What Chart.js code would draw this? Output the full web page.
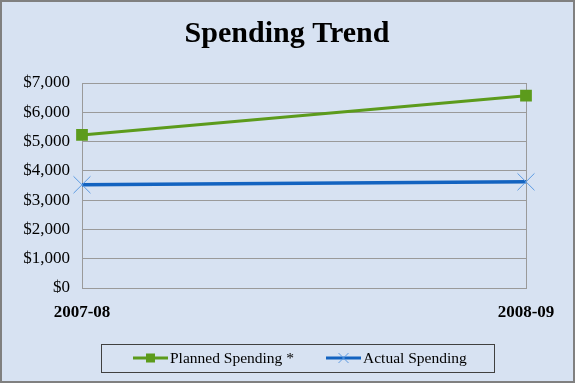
<!DOCTYPE html>
<html>
<head>
<meta charset="utf-8">
<script src="https://cdn.jsdelivr.net/npm/chart.js@4/dist/chart.umd.min.js"></script>
<style>
  html, body { margin: 0; padding: 0; background: #d7e2f2; }
  #wrap { width: 571px; height: 379px; border: 2px solid #808080; position: relative; }
</style>
</head>
<body>
<div id="wrap"><canvas id="chart" width="571" height="379"></canvas></div>
<script>
const years = ["2007-08", "2008-09"];
const planned = [5225, 6565];
const actual = [3525, 3625];
const seriesNames = ["Planned Spending *", "Actual Spending"];
const chartTitle = "Spending Trend";

const serif = "'Liberation Serif', 'Times New Roman', serif";
const ctx = document.getElementById("chart");

// title and framed legend drawn by hand, centred on the whole picture
const frame = {
  id: "frame",
  afterDraw(chart) {
    const c = chart.ctx;
    c.save();
    c.fillStyle = "#000";
    c.textAlign = "center";
    c.textBaseline = "alphabetic";
    c.font = "bold 30px " + serif;
    c.fillText(chartTitle, 285, 40);

    c.textAlign = "left";
    c.textBaseline = "middle";
    c.strokeStyle = "#404040";
    c.lineWidth = 1;
    c.strokeRect(99.5, 342.5, 393, 28);
    c.font = "15.5px " + serif;
    const items = [
      { x: 131, ds: chart.data.datasets[0] },
      { x: 324, ds: chart.data.datasets[1] },
    ];
    const y = 356;
    items.forEach((it) => {
      c.strokeStyle = it.ds.borderColor;
      c.lineWidth = 3;
      c.beginPath();
      c.moveTo(it.x, y);
      c.lineTo(it.x + 35, y);
      c.stroke();
      const mx = it.x + 17.5;
      if (it.ds.pointStyle === "rect") {
        c.fillStyle = it.ds.pointBackgroundColor;
        c.fillRect(mx - 4.5, y - 4.5, 9, 9);
      } else {
        c.strokeStyle = it.ds.pointBorderColor;
        c.lineWidth = 1;
        c.beginPath();
        c.moveTo(mx - 5, y - 5); c.lineTo(mx + 5, y + 5);
        c.moveTo(mx + 5, y - 5); c.lineTo(mx - 5, y + 5);
        c.stroke();
      }
      c.fillStyle = "#000";
      c.fillText(it.ds.label, it.x + 37, y + 1);
    });
    c.restore();
  },
};

const myChart = new Chart(ctx, {
  type: "line",
  data: {
    labels: years,
    datasets: [
      {
        label: seriesNames[0],
        data: planned,
        borderColor: "#5c9b1c",
        backgroundColor: "#5c9b1c",
        pointBackgroundColor: "#5c9b1c",
        pointBorderColor: "#5c9b1c",
        pointStyle: "rect",
        pointRadius: 8.3,
        pointBorderWidth: 0,
        borderWidth: 3,
        tension: 0,
      },
      {
        label: seriesNames[1],
        data: actual,
        borderColor: "#1363c0",
        backgroundColor: "#1363c0",
        pointBorderColor: "#5b9ae2",
        pointStyle: "crossRot",
        pointRadius: 12,
        pointBorderWidth: 1,
        borderWidth: 3.5,
        tension: 0,
      },
    ],
  },
  options: {
    responsive: false,
    animation: false,
    events: [],
    layout: { padding: { left: 0, right: 47, top: 81, bottom: 53 } },
    plugins: {
      legend: { display: false },
      tooltip: { enabled: false },
      title: { display: false },
    },
    scales: {
      x: {
        offset: false,
        afterFit(scale) { scale.height = 40; },
        grid: { color: "#9a9a9a", drawTicks: false },
        border: { color: "#9a9a9a" },
        ticks: {
          color: "#000",
          padding: 14,
          maxRotation: 0,
          font: { family: serif, size: 17, weight: "bold" },
        },
      },
      y: {
        min: 0,
        max: 7000,
        afterFit(scale) { scale.width = 80; },
        grid: { color: "#9a9a9a", drawTicks: false },
        border: { color: "#9a9a9a" },
        ticks: {
          stepSize: 1000,
          color: "#000",
          padding: 12,
          font: { family: serif, size: 17 },
          callback: (v) => "$" + v.toLocaleString("en-US"),
        },
      },
    },
  },
  plugins: [frame],
});
</script>
</body>
</html>
